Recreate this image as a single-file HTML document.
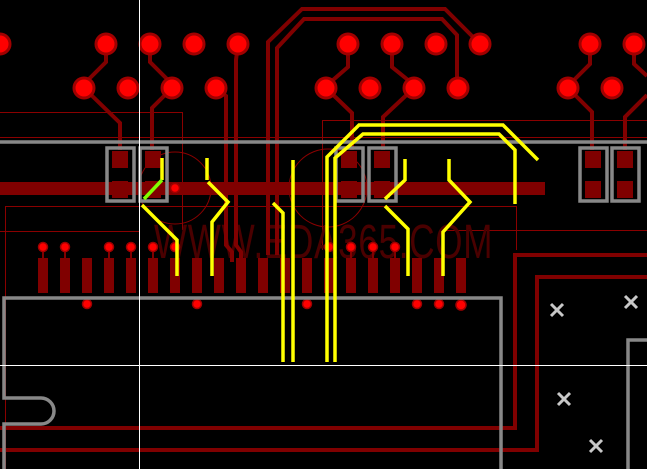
<!DOCTYPE html>
<html><head><meta charset="utf-8"><style>html,body{margin:0;padding:0;background:#000;}svg{display:block}</style></head>
<body>
<svg width="647" height="469" viewBox="0 0 647 469" xmlns="http://www.w3.org/2000/svg">
<rect width="647" height="469" fill="#000"/>
<g stroke="#8a0000" stroke-width="1" fill="none">
<polyline points="0,112.5 182.5,112.5 182.5,230"/>
<line x1="0" y1="137.5" x2="647" y2="137.5"/>
<polyline points="5.5,469 5.5,206.5 516.5,206.5 516.5,250"/>
<line x1="0" y1="231.5" x2="140" y2="231.5"/>
<line x1="440" y1="230.5" x2="647" y2="230.5"/>
<polyline points="322.5,250 322.5,120.5 647,120.5"/>
<circle cx="175" cy="188" r="36"/>
<circle cx="328" cy="188" r="39"/>
</g>
<text x="0" y="0" transform="translate(154,258) scale(0.73,1)" font-family="Liberation Sans, sans-serif" font-size="48" fill="#4a0000" letter-spacing="1">WWW.EDA365.COM</text>
<g stroke="#800000" stroke-width="4" fill="none" stroke-linejoin="miter">
<polyline points="106,44 106,62 88,80"/>
<polyline points="84,88 120,123 120,150"/>
<polyline points="150,44 150,62 170,82"/>
<polyline points="172,88 152,108 152,150"/>
<polyline points="216,88 226,96 226,245 232,252 232,262"/>
<polyline points="238,44 236,60 236,245 241,252 241,262"/>
<polyline points="268,255 268,42 302,9 445,9 480,44"/>
<polyline points="277,255 277,48 304,19 442,19 457,35 457,88"/>
<polyline points="348,44 348,67 333,80"/>
<polyline points="326,88 352,113 352,150"/>
<polyline points="392,44 392,67 408,80"/>
<polyline points="414,88 383,117 383,150"/>
<polyline points="590,44 590,64 574,80"/>
<polyline points="568,88 592,112 592,150"/>
<polyline points="634,44 634,64 647,76"/>
<polyline points="647,95 625,117 625,150"/>
<polyline points="0,428 515,428 515,255 647,255"/>
<polyline points="0,450 537,450 537,277 647,277"/>
</g>
<rect x="0" y="182" width="545" height="13" fill="#800000"/>
<g fill="#ff0000" stroke="#a00000" stroke-width="3">
<circle cx="0" cy="44" r="10"/>
<circle cx="106" cy="44" r="10"/><circle cx="150" cy="44" r="10"/><circle cx="194" cy="44" r="10"/><circle cx="238" cy="44" r="10"/>
<circle cx="348" cy="44" r="10"/><circle cx="392" cy="44" r="10"/><circle cx="436" cy="44" r="10"/><circle cx="480" cy="44" r="10"/>
<circle cx="590" cy="44" r="10"/><circle cx="634" cy="44" r="10"/>
<circle cx="84" cy="88" r="10"/><circle cx="128" cy="88" r="10"/><circle cx="172" cy="88" r="10"/><circle cx="216" cy="88" r="10"/>
<circle cx="326" cy="88" r="10"/><circle cx="370" cy="88" r="10"/><circle cx="414" cy="88" r="10"/><circle cx="458" cy="88" r="10"/>
<circle cx="568" cy="88" r="10"/><circle cx="612" cy="88" r="10"/>
</g>
<g fill="#800000">
<rect x="112" y="151" width="16" height="17"/><rect x="112" y="181" width="16" height="17"/>
<rect x="145" y="151" width="16" height="17"/><rect x="145" y="181" width="16" height="17"/>
<rect x="341" y="151" width="16" height="17"/><rect x="341" y="181" width="16" height="17"/>
<rect x="374" y="151" width="16" height="17"/><rect x="374" y="181" width="16" height="17"/>
<rect x="585" y="151" width="16" height="17"/><rect x="585" y="181" width="16" height="17"/>
<rect x="617" y="151" width="16" height="17"/><rect x="617" y="181" width="16" height="17"/>
</g>
<g fill="#800000">
<rect x="38" y="258" width="10" height="35"/><rect x="60" y="258" width="10" height="35"/><rect x="82" y="258" width="10" height="35"/><rect x="104" y="258" width="10" height="35"/><rect x="126" y="258" width="10" height="35"/><rect x="148" y="258" width="10" height="35"/><rect x="170" y="258" width="10" height="35"/><rect x="192" y="258" width="10" height="35"/><rect x="214" y="258" width="10" height="35"/><rect x="236" y="258" width="10" height="35"/><rect x="258" y="258" width="10" height="35"/><rect x="280" y="258" width="10" height="35"/><rect x="302" y="258" width="10" height="35"/><rect x="324" y="258" width="10" height="35"/><rect x="346" y="258" width="10" height="35"/><rect x="368" y="258" width="10" height="35"/><rect x="390" y="258" width="10" height="35"/><rect x="412" y="258" width="10" height="35"/><rect x="434" y="258" width="10" height="35"/><rect x="456" y="258" width="10" height="35"/>
<rect x="42" y="247" width="2" height="12"/><rect x="64" y="247" width="2" height="12"/><rect x="108" y="247" width="2" height="12"/><rect x="130" y="247" width="2" height="12"/><rect x="152" y="247" width="2" height="12"/><rect x="350" y="247" width="2" height="12"/><rect x="372" y="247" width="2" height="12"/><rect x="394" y="247" width="2" height="12"/>
</g>
<g fill="#ff0000" stroke="#a00000" stroke-width="1.5">
<circle cx="43" cy="247" r="4.5"/><circle cx="65" cy="247" r="4.5"/><circle cx="109" cy="247" r="4.5"/><circle cx="131" cy="247" r="4.5"/><circle cx="153" cy="247" r="4.5"/><circle cx="175" cy="247" r="4.5"/><circle cx="329" cy="247" r="4.5"/><circle cx="351" cy="247" r="4.5"/><circle cx="373" cy="247" r="4.5"/><circle cx="395" cy="247" r="4.5"/>
<circle cx="87" cy="304" r="4.5"/><circle cx="197" cy="304" r="4.5"/><circle cx="307" cy="304" r="4.5"/><circle cx="417" cy="304" r="4.5"/><circle cx="439" cy="304" r="4.5"/><circle cx="461" cy="305" r="5"/>
<circle cx="175" cy="188" r="4.5"/>
</g>
<g stroke="#888" stroke-width="3.5" fill="none">
<line x1="0" y1="142" x2="647" y2="142"/>
<rect x="107" y="148" width="27" height="53"/><rect x="140" y="148" width="27" height="53"/>
<rect x="336" y="148" width="27" height="53"/><rect x="369" y="148" width="27" height="53"/>
<rect x="580" y="148" width="27" height="53"/><rect x="612" y="148" width="27" height="53"/>
<path d="M4,469 V424 H41 A13,13 0 0 0 41,398 H4 V298 H501 V469"/>
<polyline points="628,469 628,340 647,340"/>
</g>
<line x1="139.5" y1="0" x2="139.5" y2="469" stroke="#fff" stroke-width="1"/>
<line x1="0" y1="365.5" x2="647" y2="365.5" stroke="#fff" stroke-width="1"/>
<g stroke="#ffff00" stroke-width="3.5" fill="none" stroke-linecap="butt">
<polyline points="162,158 162,180"/>
<polyline points="162,180 144,199" stroke="#80ff00"/>
<polyline points="142,205 177,240 177,276"/>
<polyline points="207,158 207,180"/>
<polyline points="208,182 228,202 212,222 212,276"/>
<polyline points="273,203 283,213 283,362"/>
<polyline points="293,160 293,362"/>
<polyline points="327,362 327,157 359,125 503,125 538,160"/>
<polyline points="335,362 335,158 363,134 499,134 515,150 515,204"/>
<polyline points="405,159 405,180 385,199"/>
<polyline points="385,206 408,229 408,276"/>
<polyline points="449,159 449,180 470,202 443,232 443,276"/>
</g>
<g stroke="#c8c8c8" stroke-width="3">
<path d="M551,304l12,12M563,304l-12,12"/>
<path d="M625,296l12,12M637,296l-12,12"/>
<path d="M558,393l12,12M570,393l-12,12"/>
<path d="M590,440l12,12M602,440l-12,12"/>
</g>
</svg>
</body></html>
